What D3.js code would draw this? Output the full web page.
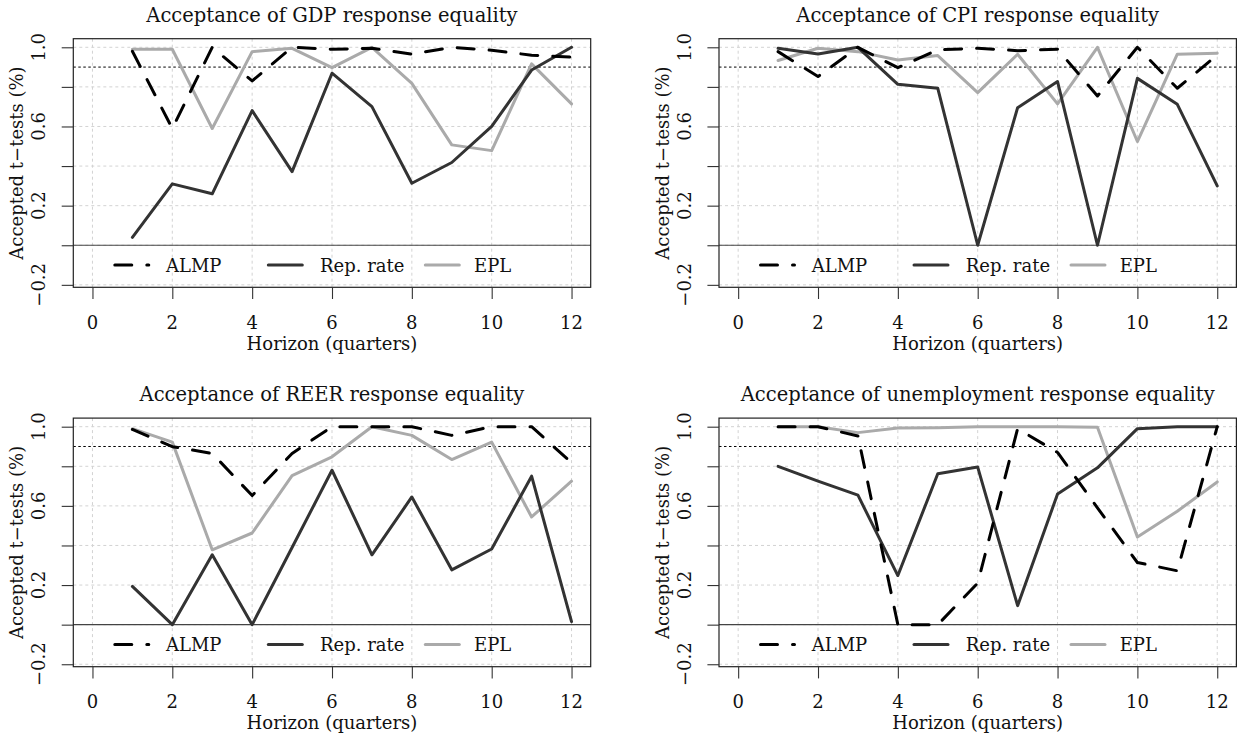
<!DOCTYPE html>
<html>
<head>
<meta charset="utf-8">
<script src="https://cdn.jsdelivr.net/npm/d3@7"></script>
<style>
  html, body { margin: 0; padding: 0; background: #fff; }
  svg { display: block; }
  text { font-family: "DejaVu Serif", serif; fill: #111; }
</style>
</head>
<body>
<svg id="chart" width="1238" height="741"></svg>
<script>
// Horizon (quarters) at which the t-tests are evaluated
const horizon = [1, 2, 3, 4, 5, 6, 7, 8, 9, 10, 11, 12];

// Share of accepted t-tests, GDP response
const gdpAlmp = [0.98, 0.59, 1.00, 0.83, 1.00, 0.99, 0.995, 0.965, 1.00, 0.985, 0.96, 0.95];
const gdpRep  = [0.04, 0.31, 0.26, 0.68, 0.372, 0.869, 0.70, 0.313, 0.418, 0.60, 0.885, 1.00];
const gdpEpl  = [0.99, 0.99, 0.59, 0.978, 0.995, 0.897, 1.00, 0.818, 0.507, 0.478, 0.916, 0.714];

// Share of accepted t-tests, CPI response
const cpiAlmp = [0.978, 0.852, 1.00, 0.897, 0.987, 0.995, 0.983, 0.99, 0.754, 1.00, 0.793, 0.961];
const cpiRep  = [0.995, 0.966, 1.00, 0.813, 0.793, 0.00, 0.695, 0.827, 0.00, 0.843, 0.712, 0.30];
const cpiEpl  = [0.933, 0.995, 0.978, 0.936, 0.958, 0.771, 0.965, 0.714, 1.00, 0.524, 0.965, 0.97];

// Share of accepted t-tests, REER response
const reerAlmp = [0.986, 0.899, 0.865, 0.652, 0.865, 1.00, 1.00, 1.00, 0.956, 1.00, 1.00, 0.818];
const reerRep  = [0.193, 0.00, 0.353, 0.00, 0.39, 0.78, 0.353, 0.645, 0.277, 0.382, 0.75, 0.015];
const reerEpl  = [0.99, 0.922, 0.378, 0.463, 0.753, 0.848, 1.00, 0.956, 0.834, 0.922, 0.544, 0.725];

// Share of accepted t-tests, unemployment response
const unAlmp = [1.00, 1.00, 0.953, 0.00, 0.00, 0.21, 0.99, 0.87, 0.59, 0.314, 0.272, 1.00];
const unRep  = [0.80, 0.725, 0.654, 0.248, 0.762, 0.796, 0.096, 0.66, 0.792, 0.99, 1.00, 1.00];
const unEpl  = [1.00, 1.00, 0.97, 0.993, 0.995, 1.00, 1.00, 1.00, 0.997, 0.443, 0.573, 0.721];

const panelTitles = [
  "Acceptance of GDP response equality",
  "Acceptance of CPI response equality",
  "Acceptance of REER response equality",
  "Acceptance of unemployment response equality"
];
const seriesNames = ["ALMP", "Rep. rate", "EPL"];
const xTicks = [0, 2, 4, 6, 8, 10, 12];
const yTicks = [-0.2, 0, 0.2, 0.4, 0.6, 0.8, 1.0];
const yTickLabels = ["\u22120.2", "", "0.2", "", "0.6", "", "1.0"];
const thresholdLevel = 0.9;
const xTitle = "Horizon (quarters)";
const yTitle = "Accepted t\u2212tests (%)";

const panelSeries = [
  [gdpAlmp, gdpRep, gdpEpl],
  [cpiAlmp, cpiRep, cpiEpl],
  [reerAlmp, reerRep, reerEpl],
  [unAlmp, unRep, unEpl]
];

// Line styles per series: ALMP dashed black, Rep. rate dark grey, EPL light grey
const seriesStyle = [
  { color: "#000000", dash: "17 15" },
  { color: "#333333", dash: null },
  { color: "#aaaaaa", dash: null }
];

const svg = d3.select("#chart");
const W = 517.4, H = 248.6;
const origins = [[73.3, 38.7], [719, 38.7], [73.3, 418.1], [719, 418.1]];
const legendLineX = [[41.5, 75.5], [195, 229], [352, 386]];
const legendTextX = [92.7, 246.7, 400.7];
const fs = 18;

const x = d3.scaleLinear().domain([-0.48, 12.48]).range([0, W]);
const y = d3.scaleLinear().domain([-0.2124, 1.0434]).range([H, 0]);

const line = d3.line()
  .x((d, i) => x(horizon[i]))
  .y(d => y(d));

panelSeries.forEach((series, p) => {
  const [bx, by] = origins[p];
  const g = svg.append("g").attr("transform", `translate(${bx},${by})`);

  const clipId = "clip" + p;
  g.append("clipPath").attr("id", clipId)
    .append("rect").attr("width", W).attr("height", H);

  // grid
  const grid = g.append("g").attr("stroke", "#d3d3d3").attr("stroke-width", 1)
    .attr("stroke-dasharray", "3 3");
  grid.selectAll("line.v").data(xTicks).join("line")
    .attr("x1", d => x(d)).attr("x2", d => x(d))
    .attr("y1", 0).attr("y2", H);
  grid.selectAll("line.h").data(yTicks).join("line")
    .attr("x1", 0).attr("x2", W)
    .attr("y1", d => y(d)).attr("y2", d => y(d));

  // zero line and 90% threshold
  g.append("line").attr("x1", 0).attr("x2", W)
    .attr("y1", y(0)).attr("y2", y(0))
    .attr("stroke", "#444").attr("stroke-width", 1.2);
  g.append("line").attr("x1", 0).attr("x2", W)
    .attr("y1", y(thresholdLevel)).attr("y2", y(thresholdLevel))
    .attr("stroke", "#000").attr("stroke-width", 1)
    .attr("stroke-dasharray", "2.5 2.5");

  // series (EPL first so the darker lines sit on top)
  const order = [2, 1, 0];
  order.forEach(s => {
    g.append("path")
      .datum(series[s])
      .attr("d", line)
      .attr("fill", "none")
      .attr("stroke", seriesStyle[s].color)
      .attr("stroke-width", 3)
      .attr("stroke-linejoin", "round")
      .attr("stroke-linecap", "round")
      .attr("stroke-dasharray", seriesStyle[s].dash)
      .attr("clip-path", `url(#${clipId})`);
  });

  // box
  g.append("rect").attr("width", W).attr("height", H)
    .attr("fill", "none").attr("stroke", "#222").attr("stroke-width", 1.2);

  // x axis
  const xAxis = g.append("g").attr("transform", `translate(0,${H})`)
    .call(d3.axisBottom(x).tickValues(xTicks).tickSize(11.7).tickFormat(""));
  xAxis.select(".domain").remove();
  xAxis.selectAll(".tick line").attr("stroke", "#333").attr("stroke-width", 1.1);
  g.append("g").selectAll("text").data(xTicks).join("text")
    .attr("x", d => x(d)).attr("y", H + 41.7)
    .attr("text-anchor", "middle").attr("font-size", fs)
    .text(d => d);

  // y axis
  const yAxis = g.append("g")
    .call(d3.axisLeft(y).tickValues(yTicks).tickSize(11.6).tickFormat(""));
  yAxis.select(".domain").remove();
  yAxis.selectAll(".tick line").attr("stroke", "#333").attr("stroke-width", 1.1);
  g.append("g").selectAll("text").data(yTicks).join("text")
    .attr("transform", d => `translate(-28.3,${y(d)}) rotate(-90)`)
    .attr("text-anchor", "middle").attr("font-size", fs)
    .text((d, i) => yTickLabels[i]);

  // titles
  g.append("text").attr("x", W / 2).attr("y", -17)
    .attr("text-anchor", "middle").attr("font-size", 19.5)
    .text(panelTitles[p]);
  g.append("text").attr("x", W / 2).attr("y", H + 62.7)
    .attr("text-anchor", "middle").attr("font-size", fs)
    .text(xTitle);
  g.append("text")
    .attr("transform", `translate(-50.3,${H / 2}) rotate(-90)`)
    .attr("text-anchor", "middle").attr("font-size", fs)
    .text(yTitle);

  // legend
  const ly = y(-0.1);
  seriesNames.forEach((name, s) => {
    g.append("line")
      .attr("x1", legendLineX[s][0]).attr("x2", legendLineX[s][1])
      .attr("y1", ly).attr("y2", ly)
      .attr("stroke", seriesStyle[s].color)
      .attr("stroke-width", 3)
      .attr("stroke-linecap", "round")
      .attr("stroke-dasharray", seriesStyle[s].dash);
    g.append("text").attr("x", legendTextX[s]).attr("y", ly + 6.6)
      .attr("font-size", fs).text(name);
  });
});
</script>
</body>
</html>
